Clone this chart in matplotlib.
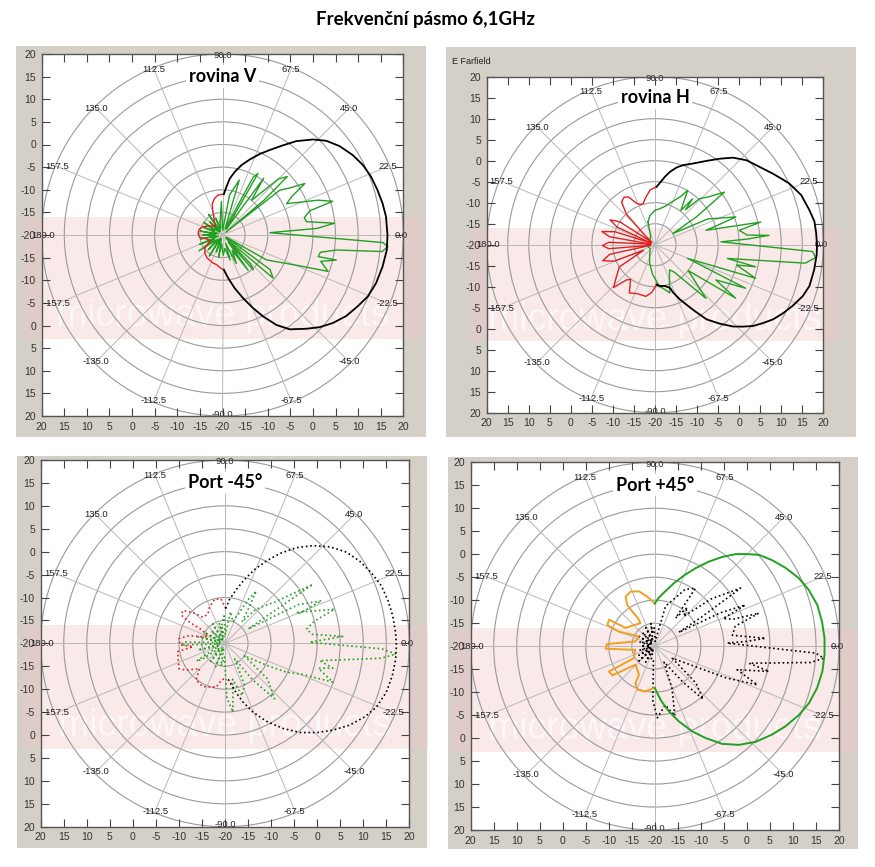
import numpy as np
import matplotlib.pyplot as plt
from matplotlib.patches import Rectangle, Circle

# ===== data: (angle deg, gain dB) =====
# rovina V
v_black_ang = [88.1, 85.3, 82.6, 79, 74.8, 70.1, 65.3, 60.9, 56, 51.8, 46.5, 42.2, 37.2, 31.5, 26.5, 21.4, 16.1, 11.1, 6.4, 0,
               -5.2, -11.1, -17.4, -22.9, -27.8, -33.2, -38.6, -43.5, -48.2, -54.5, -59, -63.5, -67.3, -71.9, -77, -82.5, -87.8]
v_black_db = [-10.95, -9.3, -7.4, -5.8, -4, -2.25, -0.3, 1.5, 3.9, 6.4, 9.1, 11, 12.5, 13.8, 14.7, 15.3, 15.7, 16.1, 16.4, 16.5,
              16.5, 16.1, 15.6, 14.9, 13.8, 12.7, 11.2, 9.6, 7.8, 5.6, 3.2, 0.1, -2.5, -5.3, -7.9, -10.4, -12.3]
v_red_ang = [88.1, 96, 102, 108, 112, 118, 130, 145, 158, 166, 176, 186, 195, 205, 216, 226, 236, 250, 259, 265, 272.2]
v_red_db = [-10.95, -11.1, -11.7, -12.7, -14.2, -16, -17.5, -16.5, -15.2, -14.7, -14.6, -14.9, -16.5, -17, -15.2, -14.4, -13.9,
            -13.5, -13.3, -12.8, -12.3]
v_green_ang = [100, 92, 88, 80, 73, 68, 62, 60, 57, 54, 50, 45, 42, 40, 39, 38, 35, 32, 29, 26, 20, 17, 15.5, 12, 9, 6, 4, 2.8,
               -2.7, -4, -5.9, -7.5, -10, -12.7, -12.4, -15, -19, -22, -29.5, -30, -36, -40.4, -43, -46, -48.6, -51, -54, -58,
               -64, -70, -73, -80, -88, -95,
               -100, -105, -110, -116, -122, -128, -134, -140, -146, -152, -158, -164, -170, -175, -180, -185, -190, -196,
               -202, -208, -214, -220, -226, -232, -236, -242, -248, -255, 100]
v_green_db = [-17, -12.6, -19, -11, -7.3, -18.5, -5.5, -4.3, -18.5, -4.5, -10, -2.5, -0.7, -8, -19, -3.9, -1.9, 1.5, -2.5, -4.2,
              2.5, 5.5, 0.1, -1.5, -1.2, 4.9, 1, -9.5,
              15.5, 16.7, 15.5, 5.4, 2, 1.7, 5.8, 2.5, 4.7, -2, -8.8, -19, -7, -5.3, -19, -11, -9.7, -18, -10.4, -16,
              -13, -18, -14.2, -17, -15.5, -18,
              -15, -19, -16, -19.2, -14.5, -19, -15.5, -18.5, -13.7, -18, -14.5, -19, -15, -18.5, -15.5, -18.5, -15, -19,
              -15.5, -18, -15, -19, -16, -19, -14.5, -19, -16, -18.5, -17]

# rovina H
h_black_ang = [88.4, 85.4, 81.7, 78.4, 74.4, 70.5, 64.9, 58.5, 53.1, 48.2, 42.8, 36.7, 31.2, 27.1, 24.5, 18.8, 12.7, 8.3, 4.1, 0,
               -3.5, -8.9, -15, -19.2, -24, -28.3, -32.4, -36.1, -39.7, -43, -46.4, -50.7, -55.4, -59.7, -65.6, -69.2, -70.9,
               -76.5, -83.2, -87.6]
h_black_db = [-6.2, -5.2, -3.65, -2.3, -0.9, 0.1, 1.35, 3.4, 5.6, 7.8, 9.6, 11, 12.7, 14.1, 15.1, 16.7, 17.6, 18.3, 18.4, 18.5,
              18.5, 18.3, 18, 17.2, 15.8, 14.5, 13.2, 11.7, 10.3, 8.6, 6.9, 4.3, 1.6, -2, -5.7, -7.8, -9.1, -9.9, -10.1, -10.5]
h_red_ang = [88.4, 95, 101, 106, 110, 114, 119, 123, 128, 133, 138, 142, 147, 151, 155, 158, 162, 166, 170, 173, 177, 181, 185,
             188, 192, 197, 202, 206, 212, 220, 226, 231, 235, 242, 250, 260, 266, 272.4]
h_red_db = [-6.2, -6.9, -8.5, -9.8, -9.8, -9.2, -7, -6.5, -7.1, -10, -17, -19, -10, -7.8, -10, -19, -10, -7, -9, -19, -9, -7.5, -9,
            -19, -9, -7, -9.5, -17, -10, -8, -5.8, -9.2, -9.9, -7, -7.6, -7.5, -8.6, -10.5]
h_green_ang = [107, 100, 90, 83, 75, 69, 62, 59, 53, 50.7, 49, 46, 42, 37.2, 34, 32, 26, 19, 17, 15.8, 12.1, 9.7, 6, 4.7, 3.5, 2.5,
               -2.5, -4.6, -7, -10.8, -12.4, -14, -18.5, -22.8, -25.7, -30.1, -33.6, -38, -46.5, -55, -60, -69.5, -72.8,
               -80, -84, -95, -106, -115, -140, -180, -220, -245, 107]
h_green_db = [-14.3, -13, -11.8, -11.4, -10.5, -9.2, -7, -4.9, -9.8, -5.9, -9, -4.8, -3, 0.7, -8, -15, -6, 0.3, -5, -7.4, 5.7, 0.3,
              2, 7.2, 2, -4.3,
              17.5, 18.3, 16, -2.5, 4.5, 0, 5.2, -11.6, 3.9, -3.3, 3, -10, -2.4, -12, -13.1, -10.2, -8, -9.5, -10, -13, -15.4,
              -17, -18.5, -18, -18.5, -17.5, -14.3]

# Port -45 deg
m_black_ang = [88.9, 84, 78.2, 73, 68.2, 63.4, 58.8, 53.4, 48.2, 42.8, 37.1, 31.5, 25.9, 20.2, 14.7, 9.4, 3.7, -0.8, -5.2,
               -10.9, -16.9, -22.9, -27.9, -33.4, -39, -44.5, -50.2, -55.9, -62.2, -67.9, -73, -78.5, -83.9, -88.9]
m_black_db = [-12.4, -10.3, -8, -5.4, -2.6, 0.1, 2.9, 6, 8.6, 11, 13, 14.3, 15.3, 16.2, 16.6, 16.9, 17.1, 17.2, 17.2,
              17, 16.6, 15.7, 14.3, 12.4, 10.1, 7.8, 5.3, 2.4, -0.8, -3.8, -6.6, -9.5, -11.9, -12.4]
m_red_ang = [88.9, 95, 103, 113, 120, 130, 136, 142, 147, 149, 150, 160, 168, 174, 182, 186, 190, 200, 209, 215, 225, 232, 243,
             259, 264, 271.1]
m_red_db = [-12.4, -10.3, -10.1, -11.4, -12.6, -12.6, -10.3, -8.4, -8.7, -11, -14.5, -16, -12, -10, -10.2, -13, -9.6, -9.2,
            -8.6, -9.8, -12.2, -9.8, -9.4, -10.3, -11.9, -12.4]
m_green_ang = [100, 92, 88, 80, 70, 62, 59.2, 56, 52, 48, 40, 34, 32, 28, 23.9, 22, 23.5, 17.4, 14, 10, 6, 3.4, 1.5, 0.7,
               -2, -3.6, -5.5, -10.4, -13, -15, -19.9, -22, -25.3, -28, -33, -40, -48.3, -53, -58, -65, -72, -78, -83.4,
               -88, -92,
               -100, -105, -112, -120, -128, -138, -145, -148, -156, -166, -172, -178, -182, -186, -194, -200, -208, -215,
               -222, -230, -238, -246, -254, -260, 100]
m_green_db = [-16, -14, -18, -13, -15, -9, -6.7, -11, -14, -10, -6, 3, -14.1, -2, 2.9, -2.5, -3.1, 4.9, 0, -2, -1, 5.6, 0, -1.6,
              14, 17.2, 14, 0.9, 4, 1, 4.9, -2, -5.3, -10, -15, -8, -3.8, -10, -16, -10, -8, -12, -4.9,
              -8, -17,
              -15, -19, -14.5, -19, -15, -18.5, -14, -12.7, -18.5, -14, -19, -10.5, -11, -19, -14, -19, -15, -19,
              -16, -19, -15, -19, -15.5, -18.5, -16]

# Port +45 deg
p_green_ang = [90, 85.3, 79.1, 73.2, 67.7, 62.5, 57.5, 53, 48.8, 45.5, 41.3, 36.3, 31, 25.3, 20.1, 14.3, 8.4, 2.7, -2.9, -8.6,
               -14.5, -20.3, -25.5, -31.6, -37.1, -43.6, -49.6, -55.5, -61.2, -66.4, -72.3, -77.9, -83.1, -87.2, -90]
p_green_db = [-10.7, -9.4, -7.8, -5.7, -3.4, -0.9, 1.8, 4.3, 6.6, 8.1, 10.1, 11.6, 13.1, 14.6, 15.6, 16.4, 16.7, 16.9, 16.9,
              16.8, 16.4, 15.7, 14.7, 13.3, 11.9, 10.2, 8.2, 5.8, 2.8, 0.2, -2.8, -5.5, -7.9, -9.8, -10.9]
p_orange_ang = [90, 98.8, 106, 114, 120.6, 123.8, 123, 121, 122, 148, 150, 156, 158, 149, 166, 177.6, 183, 191, 210, 209,
                214.5, 224, 241, 242.4, 248, 258, 268.6, 270]
p_orange_db = [-10.7, -9.1, -7.6, -7, -7.5, -9.2, -11, -12.9, -14.1, -12.5, -8.5, -8.7, -11.6, -15.9, -15.7, -9.6, -9.3, -15.7,
               -14.7, -8.6, -8.8, -14.2, -12.9, -10.9, -9.8, -9.9, -10.9, -10.9]
p_black_ang = [100, 92, 86, 75, 62, 55, 53.6, 50, 46, 40, 34.1, 32, 30, 27, 24.5, 22, 19, 17.6, 14, 8, 4.1, 3, 2.4,
               -2.5, -4.1, -6, -10.3, -12.5, -16, -20.7, -24, -34.7, -42, -47.7, -52, -60, -68, -74, -80, -88, -92, -96,
               -105, -112, -120, -128, -137, -144, -150, -158, -165, -172, -180, -188, -196, -204, -212, -220, -228, -236,
               -244, -252, -260, 100]
p_black_db = [-17, -16, -19, -11, -6, -4.6, -12.4, -9, -11, -4, 2.5, -8, -14, -4, 1.6, -4, -2, 3.7, -2, -3, 4.1, 0, -4.3,
              15, 16.8, 14, 0.8, 5.4, -1.4, 3.8, -3, -15.4, -8, -4.4, -10, -16, -10, -4.2, -7, -4.4, -8, -17,
              -17, -19, -16, -19, -15.3, -19, -16, -19, -16.5, -19, -17, -19, -16.5, -19, -16, -19, -16, -19,
              -15.5, -18.5, -15, -17]

angle_labels = ["0.0", "22.5", "45.0", "67.5", "90.0", "112.5", "135.0", "157.5",
                "180.0", "-157.5", "-135.0", "-112.5", "-90.0", "-67.5", "-45.0", "-22.5"]

GRAY = "#d4d0c8"
GREEN = "#22a022"
RED = "#e02020"
ORANGE = "#f0a020"
SANS = "Liberation Sans"

W, H = 875, 867
fig = plt.figure(figsize=(W / 100, H / 100), dpi=100)
fig.patch.set_facecolor("white")


def px_rect(x0, y0, x1, y1):
    return [x0 / W, 1 - y1 / H, (x1 - x0) / W, (y1 - y0) / H]


def xy(ang, db):
    r = np.array(db) + 20.0
    t = np.radians(ang)
    return r * np.cos(t), r * np.sin(t)


def make_panel(bg, box, title, curves):
    b = px_rect(*bg)
    fig.patches.append(Rectangle((b[0], b[1]), b[2], b[3], transform=fig.transFigure,
                                 facecolor=GRAY, edgecolor="none", zorder=-5))
    ax = fig.add_axes(px_rect(*box))
    ax.set_facecolor("white")
    ax.set_xlim(-40, 40)
    ax.set_ylim(-40, 40)
    ticks = np.arange(-40, 41, 5)
    labs = [f"{abs(t) - 20:g}" for t in ticks]
    ax.set_xticks(ticks)
    ax.set_xticklabels(labs, family=SANS)
    ax.set_yticks(ticks)
    ax.set_yticklabels(labs, family=SANS)
    ax.tick_params(direction="in", length=6, width=0.8, color="#444", labelsize=7.5,
                   labelcolor="#333", top=True, right=True, pad=4)
    for s in ax.spines.values():
        s.set_color("#555")
        s.set_linewidth(1.0)

    # watermark band
    ax.add_patch(Rectangle((-44, -23), 88, 27, facecolor="#f0c8c8", alpha=0.4,
                           edgecolor="none", clip_on=False, zorder=0.5))
    ax.text(0, -18, "microwave products", ha="center", va="center", fontsize=27,
            family=SANS, color="white", alpha=0.6, zorder=0.6)

    # polar grid
    for rr in range(5, 41, 5):
        ax.add_patch(Circle((0, 0), rr, fill=False, edgecolor="#9a9a9a", lw=0.8, zorder=1))
    for k in range(16):
        t = np.radians(22.5 * k)
        ax.plot([0, 40 * np.cos(t)], [0, 40 * np.sin(t)], color="#b8b8b8", lw=0.7, zorder=1)
        ax.text(39.6 * np.cos(t), 39.6 * np.sin(t), angle_labels[k], fontsize=6.8, family=SANS,
                color="#222", ha="center", va="center", zorder=2)

    for ang, db, color, ls, lw in curves:
        x, y = xy(ang, db)
        ax.plot(x, y, color=color, ls=ls, lw=lw, zorder=3)

    ax.text(0, 35, title, ha="center", va="center", fontsize=13, fontweight="bold",
            family="Lato", color="black", zorder=4,
            bbox=dict(facecolor="white", edgecolor="none", pad=2))
    return ax


make_panel((16, 46, 426, 437), (41.7, 54, 403.3, 416), "rovina V",
           [(v_green_ang, v_green_db, GREEN, "-", 1.0),
            (v_red_ang, v_red_db, RED, "-", 1.0),
            (v_black_ang, v_black_db, "black", "-", 1.3)])

make_panel((446, 47, 856, 437), (486.7, 76.7, 823.3, 412.7), "rovina H",
           [(h_green_ang, h_green_db, GREEN, "-", 1.0),
            (h_red_ang, h_red_db, RED, "-", 1.0),
            (h_black_ang, h_black_db, "black", "-", 1.3)])
fig.text(452 / W, 1 - 62 / H, "E Farfield", fontsize=6.5, family=SANS, color="#222", va="center")

make_panel((17, 456, 427, 848), (40.7, 460, 409.3, 826.7), "Port -45°",
           [(m_green_ang, m_green_db, GREEN, ":", 1.2),
            (m_red_ang, m_red_db, RED, ":", 1.2),
            (m_black_ang, m_black_db, "black", ":", 1.2)])

make_panel((448, 457, 858, 849), (470.7, 462.3, 839, 830), "Port +45°",
           [(p_black_ang, p_black_db, "black", ":", 1.2),
            (p_orange_ang, p_orange_db, ORANGE, "-", 1.4),
            (p_green_ang, p_green_db, GREEN, "-", 1.4)])

fig.text(425 / W, 1 - 20 / H, "Frekvenční pásmo 6,1GHz", ha="center", va="center",
         fontsize=13.5, fontweight="bold", family="Lato")

fig.savefig("out.png", dpi=100)
